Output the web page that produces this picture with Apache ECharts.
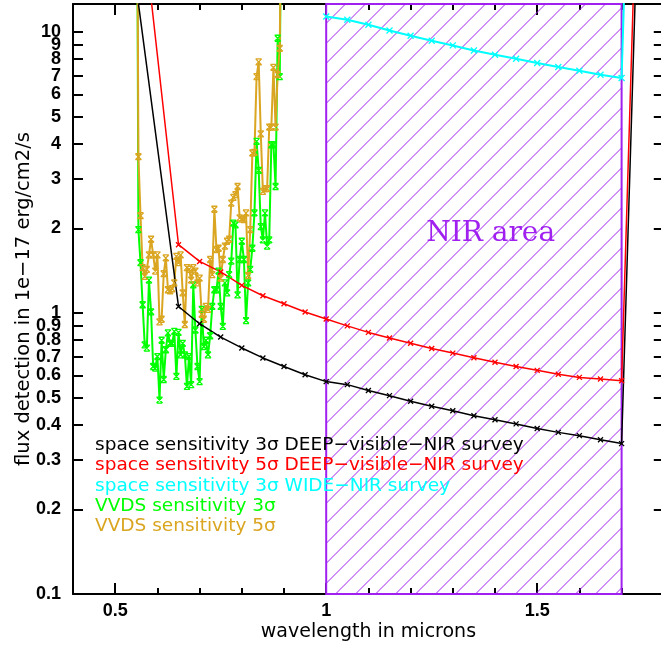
<!DOCTYPE html>
<html>
<head>
<meta charset="utf-8">
<script src="https://cdn.jsdelivr.net/npm/echarts@6.0.0/dist/echarts.min.js"></script>
<style>
html, body { margin: 0; padding: 0; background: #fff; }
#chart { width: 661px; height: 646px; }
</style>
</head>
<body>
<div id="chart"></div>
<script>
// ---------------- data ----------------
const spaceWave = [0.55, 0.65, 0.70, 0.75, 0.80, 0.85, 0.90, 0.95,
  1.00, 1.05, 1.10, 1.15, 1.20, 1.25, 1.30, 1.35, 1.40, 1.45, 1.50, 1.55, 1.60, 1.65, 1.70, 1.75];
const space3Deep = [14.4, 1.055, 0.916, 0.821, 0.751, 0.692, 0.645, 0.603,
  0.570, 0.556, 0.530, 0.508, 0.485, 0.466, 0.449, 0.431, 0.417, 0.403, 0.388, 0.376, 0.366, 0.354, 0.343, 100];
const space5Deep = [39, 1.75, 1.526, 1.40, 1.254, 1.152, 1.079, 1.008,
  0.952, 0.900, 0.853, 0.815, 0.780, 0.748, 0.720, 0.693, 0.668, 0.645, 0.625, 0.605, 0.590, 0.582, 0.574, 167];

const wideWave = [1.00, 1.05, 1.10, 1.15, 1.20, 1.25, 1.30, 1.35, 1.40, 1.45, 1.50, 1.55, 1.60, 1.65, 1.70, 1.75];
const space3Wide = [11.36, 11.06, 10.62, 10.13, 9.70, 9.31, 8.96, 8.60, 8.30, 8.03, 7.76, 7.51, 7.28, 7.05, 6.86, 2000];

const vvdsWave = [
  0.550, 0.555, 0.560, 0.565, 0.570, 0.575, 0.580, 0.585, 0.590, 0.595,
  0.600, 0.605, 0.610, 0.615, 0.620, 0.625, 0.630, 0.635, 0.640, 0.645,
  0.650, 0.655, 0.660, 0.665, 0.670, 0.675, 0.680, 0.685, 0.690, 0.695,
  0.700, 0.705, 0.710, 0.715, 0.720, 0.725, 0.730, 0.735, 0.740, 0.745,
  0.750, 0.755, 0.760, 0.765, 0.770, 0.775, 0.780, 0.785, 0.790, 0.795,
  0.800, 0.805, 0.810, 0.815, 0.820, 0.825, 0.830, 0.835, 0.840, 0.845,
  0.850, 0.855, 0.860, 0.865, 0.870, 0.875, 0.880, 0.885, 0.890, 0.895];
const vvds3 = [
  200, 1.98, 1.51, 1.07, 0.77, 0.75, 1.31, 1.01, 0.645, 0.637,
  0.70, 0.49, 0.80, 0.58, 0.74, 0.85, 0.78, 0.78, 0.86, 0.595,
  0.853, 0.71, 0.78, 0.71, 0.548, 0.70, 0.556, 1.26, 0.87, 0.645,
  0.57, 1.03, 0.76, 0.80, 0.71, 0.83, 1.055, 1.21, 1.21, 1.41,
  1.055, 0.896, 1.28, 1.18, 1.37, 1.53, 2.09, 2.06, 1.16, 1.55,
  1.80, 1.55, 0.94, 1.28, 1.43, 1.70, 2.27, 4.08, 3.22, 2.03,
  1.82, 2.27, 1.73, 1.82, 3.97, 3.97, 2.82, 9.5, 6.94, 60];
const vvds5 = [
  200, 3.6, 2.22, 1.45, 1.35, 1.43, 1.61, 1.83, 1.61, 1.41,
  1.61, 0.93, 0.95, 1.38, 1.57, 1.21, 1.20, 1.22, 1.28, 1.59,
  1.51, 1.61, 1.18, 0.91, 1.45, 1.43, 1.31, 1.45, 1.41, 1.28,
  1.33, 0.99, 0.95, 1.055, 1.03, 1.55, 1.37, 2.34, 1.68, 1.70,
  1.33, 1.55, 1.73, 1.80, 1.83, 2.46, 2.58, 2.64, 2.82, 2.18,
  2.16, 2.15, 2.27, 1.36, 1.98, 3.71, 3.73, 6.94, 7.83, 4.34,
  2.71, 2.77, 2.77, 4.59, 4.59, 7.48, 4.59, 7.06, 8.75, 60];

const nirRange = [1.0, 1.7];
const nirLabel = 'NIR area';

const seriesNames = [
  'space sensitivity 3σ DEEP−visible−NIR survey',
  'space sensitivity 5σ DEEP−visible−NIR survey',
  'space sensitivity 3σ WIDE−NIR survey',
  'VVDS sensitivity 3σ',
  'VVDS sensitivity 5σ'
];

const xMajorTicks = [0.5, 1, 1.5];
const xMinorTicks = [0.6, 0.7, 0.8, 0.9, 1.1, 1.2, 1.3, 1.4, 1.6, 1.7];
const yTicks = [0.1, 0.2, 0.3, 0.4, 0.5, 0.6, 0.7, 0.8, 0.9, 1, 2, 3, 4, 5, 6, 7, 8, 9, 10];
// labels drawn on two overlaid left axes so that the crowded "9" and "10" both stay visible
const yLabelsMain = [0.1, 0.2, 0.3, 0.4, 0.5, 0.6, 0.7, 0.8, 0.9, 1, 2, 3, 4, 5, 6, 7, 8, 10];
const yLabelsExtra = [9];

// ---------------- styling ----------------
const COLORS = ['#000000', '#ff0000', '#00ffff', '#00ff00', '#daa520'];
const PURPLE = '#a020f0';
const X_MARK = 'path://M0,0L10,10M10,0L0,10';
const XBAR_MARK = 'path://M0,0L10,0M0,10L10,10M0,0L10,10M10,0L0,10';

function hatchPattern() {
  const s = 20;
  const c = document.createElement('canvas');
  c.width = s; c.height = s;
  const g = c.getContext('2d');
  g.strokeStyle = PURPLE;
  g.lineWidth = 1;
  [-10.5, 9.5, 29.5, 49.5].forEach(k => {
    g.beginPath();
    g.moveTo(k + 10, -10);
    g.lineTo(-10, k + 10);
    g.stroke();
  });
  return { image: c, repeat: 'repeat' };
}

function lineSeries(name, xs, ys, color, width, mark, size) {
  return {
    type: 'line',
    name: name,
    data: xs.map((x, i) => [x, ys[i]]),
    xAxisIndex: 0, yAxisIndex: 0,
    clip: true,
    showSymbol: true,
    symbol: mark,
    symbolSize: size,
    lineStyle: { color: color, width: width },
    itemStyle: { color: color, borderColor: color, borderWidth: 1.3 },
    emphasis: { disabled: true },
    z: 2
  };
}

const axisFont = { fontFamily: 'Liberation Sans', fontWeight: 'bold', fontSize: 18, color: '#000' };
const nameFont = { fontFamily: 'DejaVu Sans', color: '#000' };
const yLabelFmt = v => String(parseFloat(Number(v).toPrecision(3)));

const xBase = {
  type: 'value', min: 0.4, max: 1.8, gridIndex: 0,
  splitLine: { show: false }, minorTick: { show: false }, minorSplitLine: { show: false }
};
const yBase = {
  type: 'log', logBase: 10, min: 0.1, max: 12.58, gridIndex: 0,
  splitLine: { show: false }, minorTick: { show: false }, minorSplitLine: { show: false }
};

const cyan = lineSeries(seriesNames[2], wideWave, space3Wide, COLORS[2], 2, X_MARK, 6);
cyan.markArea = {
  silent: true,
  z: 1,
  itemStyle: { color: hatchPattern(), borderColor: PURPLE, borderWidth: 2 },
  label: {
    show: true, formatter: '{b}', position: [101, 230.8], align: 'left', verticalAlign: 'middle',
    color: PURPLE, fontFamily: 'DejaVu Serif', fontSize: 28
  },
  data: [[{ name: nirLabel, xAxis: nirRange[0] }, { xAxis: nirRange[1] }]]
};

const option = {
  animation: false,
  backgroundColor: '#ffffff',
  grid: { left: 73, top: 4, right: -2.8, bottom: 52, containLabel: false, outerBoundsMode: 'none' },
  legend: {
    show: true, orient: 'vertical', left: 89, top: 434.8, padding: 0,
    itemGap: 0, itemWidth: 0, itemHeight: 0, icon: 'rect',
    itemStyle: { opacity: 0 }, lineStyle: { opacity: 0 },
    selectedMode: false,
    textStyle: { fontFamily: 'DejaVu Sans', fontSize: 18.5, lineHeight: 20.4 },
    data: seriesNames.map((n, i) => ({ name: n, textStyle: { color: COLORS[i] } }))
  },
  xAxis: [
    Object.assign({}, xBase, {
      position: 'bottom',
      name: 'wavelength in microns', nameLocation: 'middle', nameGap: 29, nameMoveOverlap: false,
      nameTextStyle: Object.assign({ fontSize: 19 }, nameFont),
      axisLine: { show: true, onZero: false, lineStyle: { color: '#000', width: 2 } },
      axisTick: { show: true, inside: true, length: 11, customValues: xMajorTicks, lineStyle: { color: '#000', width: 2 } },
      axisLabel: Object.assign({ show: true, customValues: xMajorTicks, margin: 8, formatter: v => String(v) }, axisFont)
    }),
    Object.assign({}, xBase, {
      position: 'bottom',
      axisLine: { show: false, onZero: false },
      axisTick: { show: true, inside: true, length: 6, customValues: xMinorTicks, lineStyle: { color: '#000', width: 2 } },
      axisLabel: { show: false }
    }),
    Object.assign({}, xBase, {
      position: 'top',
      axisLine: { show: true, onZero: false, lineStyle: { color: '#000', width: 2 } },
      axisTick: { show: true, inside: true, length: 11, customValues: xMajorTicks, lineStyle: { color: '#000', width: 2 } },
      axisLabel: { show: false }
    }),
    Object.assign({}, xBase, {
      position: 'top',
      axisLine: { show: false, onZero: false },
      axisTick: { show: true, inside: true, length: 6, customValues: xMinorTicks, lineStyle: { color: '#000', width: 2 } },
      axisLabel: { show: false }
    })
  ],
  yAxis: [
    Object.assign({}, yBase, {
      position: 'left',
      name: 'flux detection in 1e−17 erg/cm2/s', nameLocation: 'middle', nameGap: 39, nameRotate: 90,
      nameMoveOverlap: false,
      nameTextStyle: Object.assign({ fontSize: 19.5 }, nameFont),
      axisLine: { show: true, onZero: false, lineStyle: { color: '#000', width: 2 } },
      axisTick: { show: true, inside: true, length: 10, customValues: yTicks, lineStyle: { color: '#000', width: 2 } },
      axisLabel: Object.assign({
        show: true, customValues: yLabelsMain, margin: 12,
        showMinLabel: true, showMaxLabel: true, hideOverlap: false,
        formatter: yLabelFmt
      }, axisFont)
    }),
    Object.assign({}, yBase, {
      position: 'right',
      axisLine: { show: true, onZero: false, lineStyle: { color: '#000', width: 2 } },
      axisTick: { show: true, inside: true, length: 10, customValues: yTicks, lineStyle: { color: '#000', width: 2 } },
      axisLabel: { show: false }
    }),
    Object.assign({}, yBase, {
      position: 'left', offset: 0,
      axisLine: { show: false, onZero: false },
      axisTick: { show: false },
      axisLabel: Object.assign({
        show: true, customValues: yLabelsExtra, margin: 12,
        showMinLabel: true, showMaxLabel: true, hideOverlap: false,
        formatter: yLabelFmt
      }, axisFont)
    })
  ],
  series: [
    lineSeries(seriesNames[3], vvdsWave, vvds3, COLORS[3], 2, XBAR_MARK, 6),
    lineSeries(seriesNames[4], vvdsWave, vvds5, COLORS[4], 2, XBAR_MARK, 6),
    lineSeries(seriesNames[0], spaceWave, space3Deep, COLORS[0], 1.5, X_MARK, 5),
    lineSeries(seriesNames[1], spaceWave, space5Deep, COLORS[1], 1.5, X_MARK, 5),
    cyan
  ]
};

const chart = echarts.init(document.getElementById('chart'), null, { renderer: 'canvas', width: 661, height: 646 });
chart.setOption(option);
</script>
</body>
</html>
